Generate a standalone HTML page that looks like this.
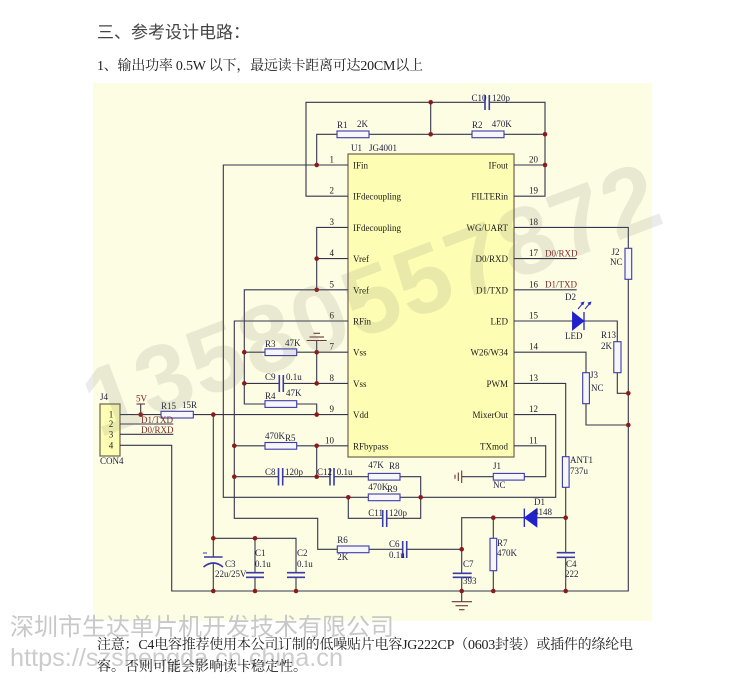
<!DOCTYPE html>
<html><head><meta charset="utf-8"><style>
html,body{margin:0;padding:0;background:#fff;}
svg{display:block;}
.l{font-family:"Liberation Serif","Noto Serif CJK SC",serif;font-size:9px;fill:#1e1e3c;}
.c{font-family:"Liberation Serif","Noto Serif CJK SC",serif;font-size:9px;fill:#1a1a1a;}
.r{font-family:"Liberation Serif","Noto Serif CJK SC",serif;font-size:9px;fill:#7a2a2a;}
</style></head><body>
<svg width="750" height="686" viewBox="0 0 750 686" xmlns="http://www.w3.org/2000/svg">
<rect width="750" height="686" fill="#fff"/>
<!-- headings -->
<text x="97" y="38" font-family="'Liberation Sans','Noto Sans CJK SC',sans-serif" font-size="17" fill="#444">三、参考设计电路：</text>
<text x="97" y="70" font-family="'Liberation Serif','Noto Serif CJK SC',serif" font-size="14" fill="#222" textLength="326" lengthAdjust="spacing">1、输出功率 0.5W 以下，最远读卡距离可达20CM以上</text>

<!-- yellow background -->
<rect x="93" y="83" width="559" height="538" fill="#fdfde4"/>

<!-- chip -->
<rect x="348" y="154" width="166" height="303" fill="#fdfdb4" stroke="#6e6250" stroke-width="1.2"/>
<!-- J4 -->
<rect x="100" y="404" width="20" height="52" fill="#fdfdb4" stroke="#6e6250" stroke-width="1.2"/>

<!-- wires -->
<g stroke="#34344e" stroke-width="1.1" fill="none">
<polyline points="485,102.3 306,102.3 306,196.2 348,196.2"/>
<polyline points="489.3,102.3 545,102.3 545,196.2 514,196.2"/>
<line x1="430.7" y1="102.3" x2="430.7" y2="134.3"/>
<polyline points="348,165 316.7,165 316.7,134.3 337,134.3"/>
<line x1="369" y1="134.3" x2="472" y2="134.3"/>
<line x1="504" y1="134.3" x2="545" y2="134.3"/>
<line x1="514" y1="165" x2="545" y2="165"/>
<polyline points="316.7,165 223.3,165 223.3,497.3 368.3,497.3"/>
<polyline points="400,497.3 555.7,497.3 555.7,414.6 514,414.6"/>
<polyline points="348,227.4 316.7,227.4 316.7,289.8"/>
<line x1="316.7" y1="258.6" x2="348" y2="258.6"/>
<polyline points="348,289.8 244.3,289.8 244.3,404 265,404"/>
<polyline points="296.7,404 316.7,404 316.7,414.6"/>
<line x1="244.3" y1="352.2" x2="265" y2="352.2"/>
<line x1="296.7" y1="352.2" x2="348" y2="352.2"/>
<line x1="316.7" y1="340.5" x2="316.7" y2="383.4"/>
<line x1="244.3" y1="383.4" x2="279.3" y2="383.4"/>
<line x1="283.3" y1="383.4" x2="348" y2="383.4"/>
<line x1="120" y1="414.6" x2="161" y2="414.6"/>
<line x1="193.3" y1="414.6" x2="348" y2="414.6"/>
<line x1="140.7" y1="404" x2="140.7" y2="414.6"/>
<line x1="120" y1="424" x2="173.3" y2="424"/>
<line x1="120" y1="434.3" x2="173.3" y2="434.3"/>
<polyline points="120,445.3 171.7,445.3 171.7,591 628.3,591 628.3,227.4 514,227.4"/>
<line x1="213.3" y1="414.6" x2="213.3" y2="557"/>
<line x1="213.3" y1="562.5" x2="213.3" y2="591"/>
<polyline points="213.3,538.3 296,538.3 296,572.7"/>
<line x1="255" y1="538.3" x2="255" y2="572.7"/>
<line x1="255" y1="577.3" x2="255" y2="591"/>
<line x1="296" y1="577.3" x2="296" y2="591"/>
<polyline points="348,321 234.3,321 234.3,518.3 317.7,518.3 317.7,549.3 337.3,549.3"/>
<line x1="369" y1="549.3" x2="402.7" y2="549.3"/>
<line x1="406.7" y1="549.3" x2="461.7" y2="549.3"/>
<line x1="234.3" y1="445.8" x2="265" y2="445.8"/>
<line x1="296.7" y1="445.8" x2="348" y2="445.8"/>
<line x1="316.7" y1="445.8" x2="316.7" y2="476.7"/>
<line x1="234.3" y1="476.7" x2="278.5" y2="476.7"/>
<line x1="282.7" y1="476.7" x2="330" y2="476.7"/>
<line x1="334" y1="476.7" x2="368.3" y2="476.7"/>
<polyline points="400,476.7 420.7,476.7 420.7,518.3 386.7,518.3"/>
<polyline points="348.3,497.3 348.3,518.3 382.7,518.3"/>
<line x1="514" y1="258.6" x2="576.7" y2="258.6"/>
<line x1="514" y1="289.8" x2="576.7" y2="289.8"/>
<line x1="514" y1="321" x2="572.7" y2="321"/>
<polyline points="584,321 617.3,321 617.3,341.7"/>
<polyline points="617.3,372.7 617.3,393.3 628.3,393.3"/>
<polyline points="514,352.2 586,352.2 586,372.7"/>
<polyline points="586,403.7 586,425 628.3,425"/>
<polyline points="514,383.4 565.7,383.4 565.7,456.7"/>
<line x1="565.7" y1="487.3" x2="565.7" y2="552.7"/>
<line x1="565.7" y1="557.3" x2="565.7" y2="591"/>
<line x1="565.7" y1="517.7" x2="536.7" y2="517.7"/>
<polyline points="524.3,517.7 461.7,517.7 461.7,573.3"/>
<line x1="461.7" y1="577.3" x2="461.7" y2="591"/>
<line x1="493.3" y1="517.7" x2="493.3" y2="538.3"/>
<line x1="493.3" y1="570.7" x2="493.3" y2="591"/>
<polyline points="514,445.8 545.7,445.8 545.7,476.7 524.3,476.7"/>
<line x1="493.3" y1="476.7" x2="461.7" y2="476.7"/>
<line x1="461.7" y1="591" x2="461.7" y2="601.7"/>
</g>

<!-- grounds / power (brown) -->
<g stroke="#6b3434" stroke-width="1.1" fill="none">
<line x1="306.7" y1="340.5" x2="326.7" y2="340.5"/>
<line x1="309.5" y1="337" x2="324" y2="337"/>
<line x1="313.5" y1="333.3" x2="320" y2="333.3"/>
<line x1="136.5" y1="404" x2="145" y2="404"/>
<line x1="451.7" y1="601.7" x2="472" y2="601.7"/>
<line x1="455.5" y1="605.7" x2="468" y2="605.7"/>
<line x1="459" y1="609.7" x2="464.5" y2="609.7"/>
<line x1="461.7" y1="470.5" x2="461.7" y2="483"/>
<line x1="458.3" y1="472.5" x2="458.3" y2="481"/>
<line x1="455" y1="474.7" x2="455" y2="478.7"/>
</g>

<!-- resistors -->
<g stroke="#3a3aa8" stroke-width="1.1" fill="#f6f6fb">
<rect x="337" y="131" width="32" height="6.7"/>
<rect x="472" y="131" width="32" height="6.7"/>
<rect x="265" y="348.9" width="31.7" height="6.7"/>
<rect x="265" y="400.7" width="31.7" height="6.7"/>
<rect x="161" y="411.3" width="32.3" height="6.7"/>
<rect x="265" y="442.5" width="31.7" height="6.7"/>
<rect x="368.3" y="473.4" width="31.7" height="6.7"/>
<rect x="368.3" y="494" width="31.7" height="6.7"/>
<rect x="337.3" y="546" width="31.7" height="6.7"/>
<rect x="493.3" y="473.4" width="31" height="6.7"/>
<rect x="625" y="248.3" width="6.7" height="31"/>
<rect x="613.8" y="341.7" width="7.2" height="31"/>
<rect x="582.7" y="372.7" width="6.7" height="31"/>
<rect x="562.4" y="456.7" width="6.7" height="30.6"/>
<rect x="490" y="538.3" width="6.7" height="32.4"/>
</g>

<!-- capacitors -->
<g stroke="#3a3aa8" stroke-width="1.6" fill="none">
<line x1="485" y1="95" x2="485" y2="110"/><line x1="489.3" y1="95" x2="489.3" y2="110"/>
<line x1="279.3" y1="375" x2="279.3" y2="392"/><line x1="283.3" y1="375" x2="283.3" y2="392"/>
<line x1="278.5" y1="468" x2="278.5" y2="485.5"/><line x1="282.7" y1="468" x2="282.7" y2="485.5"/>
<line x1="330" y1="468" x2="330" y2="485.5"/><line x1="334" y1="468" x2="334" y2="485.5"/>
<line x1="382.7" y1="510" x2="382.7" y2="527"/><line x1="386.7" y1="510" x2="386.7" y2="527"/>
<line x1="402.7" y1="541" x2="402.7" y2="558"/><line x1="406.7" y1="541" x2="406.7" y2="558"/>
<line x1="246" y1="572.7" x2="264" y2="572.7"/><line x1="246" y1="577.3" x2="264" y2="577.3"/>
<line x1="287" y1="572.7" x2="305" y2="572.7"/><line x1="287" y1="577.3" x2="305" y2="577.3"/>
<line x1="452.7" y1="573.3" x2="471.7" y2="573.3"/><line x1="452.7" y1="577.3" x2="471.7" y2="577.3"/>
<line x1="556.7" y1="552.7" x2="575" y2="552.7"/><line x1="556.7" y1="557.3" x2="575" y2="557.3"/>
<line x1="204" y1="557" x2="222.6" y2="557"/>
<path d="M203.5,567 Q213.3,559 223,567"/>
<line x1="203" y1="553" x2="207" y2="553" stroke-width="1"/>
</g>

<!-- diodes -->
<g fill="#2222cc" stroke="#2222cc" stroke-width="1.3">
<polygon points="572.7,312.5 572.7,329.5 583.5,321"/>
<line x1="584" y1="312" x2="584" y2="330"/>
<polygon points="536.7,509 536.7,526.5 524.8,517.7"/>
<line x1="524.3" y1="508.5" x2="524.3" y2="527"/>
</g>
<g stroke="#2222cc" stroke-width="1" fill="none">
<line x1="578" y1="309" x2="583.5" y2="302.5"/>
<line x1="585" y1="309" x2="590.5" y2="302.5"/>
</g>
<g fill="#2222cc">
<polygon points="584.5,301.5 580.3,302.8 583.2,305.4"/>
<polygon points="591.5,301.5 587.3,302.8 590.2,305.4"/>
</g>

<!-- junction dots -->
<g fill="#8b1a1a">
<circle cx="430.7" cy="102.3" r="2.3"/><circle cx="430.7" cy="134.3" r="2.3"/>
<circle cx="545" cy="134.3" r="2.3"/><circle cx="316.7" cy="165" r="2.3"/>
<circle cx="545" cy="165" r="2.3"/><circle cx="316.7" cy="258.6" r="2.3"/>
<circle cx="316.7" cy="289.8" r="2.3"/><circle cx="244.3" cy="352.2" r="2.3"/>
<circle cx="316.7" cy="352.2" r="2.3"/><circle cx="244.3" cy="383.4" r="2.3"/>
<circle cx="316.7" cy="383.4" r="2.3"/><circle cx="316.7" cy="414.6" r="2.3"/>
<circle cx="140.7" cy="414.6" r="2.3"/><circle cx="213.3" cy="414.6" r="2.3"/>
<circle cx="234.3" cy="445.8" r="2.3"/><circle cx="316.7" cy="445.8" r="2.3"/>
<circle cx="234.3" cy="476.7" r="2.3"/><circle cx="316.7" cy="476.7" r="2.3"/>
<circle cx="348.3" cy="497.3" r="2.3"/><circle cx="420.7" cy="497.3" r="2.3"/>
<circle cx="213.3" cy="538.3" r="2.3"/><circle cx="255" cy="538.3" r="2.3"/>
<circle cx="213.3" cy="591" r="2.3"/><circle cx="255" cy="591" r="2.3"/>
<circle cx="296" cy="591" r="2.3"/><circle cx="628.3" cy="393.3" r="2.3"/>
<circle cx="628.3" cy="425" r="2.3"/><circle cx="565.7" cy="517.7" r="2.3"/>
<circle cx="493.3" cy="517.7" r="2.3"/><circle cx="461.7" cy="549.3" r="2.3"/>
<circle cx="461.7" cy="591" r="2.3"/><circle cx="493.3" cy="591" r="2.3"/>
<circle cx="565.7" cy="591" r="2.3"/>
</g>

<!-- chip labels -->
<g class="c">
<text x="353" y="168.5">IFin</text>
<text x="353" y="199.7">IFdecoupling</text>
<text x="353" y="230.9">IFdecoupling</text>
<text x="353" y="262.1">Vref</text>
<text x="353" y="293.3">Vref</text>
<text x="353" y="324.5">RFin</text>
<text x="353" y="355.7">Vss</text>
<text x="353" y="386.9">Vss</text>
<text x="353" y="418.1">Vdd</text>
<text x="353" y="449.3">RFbypass</text>
</g>
<g class="c" text-anchor="end">
<text x="508" y="168.5">IFout</text>
<text x="508" y="199.7">FILTERin</text>
<text x="508" y="230.9">WG/UART</text>
<text x="508" y="262.1">D0/RXD</text>
<text x="508" y="293.3">D1/TXD</text>
<text x="508" y="324.5">LED</text>
<text x="508" y="355.7">W26/W34</text>
<text x="508" y="386.9">PWM</text>
<text x="508" y="418.1">MixerOut</text>
<text x="508" y="449.3">TXmod</text>
</g>
<g class="c" text-anchor="end">
<text x="334" y="162.5">1</text>
<text x="334" y="193.7">2</text>
<text x="334" y="224.9">3</text>
<text x="334" y="256.1">4</text>
<text x="334" y="287.3">5</text>
<text x="334" y="318.5">6</text>
<text x="334" y="349.7">7</text>
<text x="334" y="380.9">8</text>
<text x="334" y="412.1">9</text>
<text x="334" y="443.3">10</text>
</g>
<g class="c">
<text x="529" y="162.5">20</text>
<text x="529" y="193.7">19</text>
<text x="529" y="224.9">18</text>
<text x="529" y="256.1">17</text>
<text x="529" y="287.3">16</text>
<text x="529" y="318.5">15</text>
<text x="529" y="349.7">14</text>
<text x="529" y="380.9">13</text>
<text x="529" y="412.1">12</text>
<text x="529" y="443.3">11</text>
</g>

<!-- component labels -->
<g class="l">
<text x="351" y="151">U1</text><text x="369" y="151">JG4001</text>
<text x="471.5" y="101">C10</text><text x="492" y="101">120p</text>
<text x="337" y="128">R1</text><text x="357" y="127">2K</text>
<text x="472" y="128">R2</text><text x="491.7" y="127">470K</text>
<text x="265" y="347">R3</text><text x="285" y="346">47K</text>
<text x="265" y="380">C9</text><text x="286" y="380">0.1u</text>
<text x="265" y="399">R4</text><text x="286" y="396">47K</text>
<text x="265" y="439">470K</text><text x="285" y="441">R5</text>
<text x="265" y="475">C8</text><text x="285" y="475">120p</text>
<text x="317" y="475">C12</text><text x="336.7" y="475">0.1u</text>
<text x="368.3" y="468">47K</text><text x="389" y="469">R8</text>
<text x="368.3" y="490">470K</text><text x="387" y="492">R9</text>
<text x="368.3" y="516">C11</text><text x="389" y="516">120p</text>
<text x="337.3" y="543">R6</text><text x="337.3" y="560">2K</text>
<text x="389" y="547">C6</text><text x="389" y="558">0.1u</text>
<text x="225" y="567">C3</text><text x="215" y="577">22u/25V</text>
<text x="255" y="556">C1</text><text x="255" y="567">0.1u</text>
<text x="297" y="556">C2</text><text x="297" y="567">0.1u</text>
<text x="100" y="400">J4</text>
<text x="100" y="464">CON4</text>
<text x="161" y="409">R15</text><text x="182" y="408">15R</text>
<text x="611.5" y="255">J2</text><text x="610" y="265">NC</text>
<text x="565" y="300">D2</text>
<text x="565" y="339">LED</text>
<text x="601" y="338">R13</text><text x="601" y="349">2K</text>
<text x="590" y="378">J3</text><text x="591" y="391">NC</text>
<text x="570" y="463">ANT1</text><text x="570" y="474">737u</text>
<text x="534" y="505">D1</text><text x="534" y="515">4148</text>
<text x="497" y="546">R7</text><text x="497" y="556">470K</text>
<text x="463" y="567">C7</text><text x="463" y="584">393</text>
<text x="566" y="567">C4</text><text x="565" y="577">222</text>
<text x="493" y="469">J1</text><text x="493" y="488">NC</text>
</g>
<g class="c" text-anchor="middle">
<text x="111" y="417.5">1</text>
<text x="111" y="427">2</text>
<text x="111" y="437.5">3</text>
<text x="111" y="448.5">4</text>
</g>
<g class="r">
<text x="136" y="401.5">5V</text>
<text x="141" y="423">D1/TXD</text>
<text x="141" y="433">D0/RXD</text>
<text x="545" y="256.5">D0/RXD</text>
<text x="545" y="287.7">D1/TXD</text>
</g>

<!-- big diagonal watermark -->
<text x="0" y="0" transform="translate(99,438) rotate(-20.8)" font-family="'Liberation Sans',sans-serif" font-weight="bold" font-size="96" letter-spacing="2" fill="#7c7c6a" fill-opacity="0.15">13580557872</text>

<!-- bottom watermarks -->
<text x="10" y="635" font-family="'Liberation Sans','Noto Sans CJK SC',sans-serif" font-size="24" fill="#c8c8c8" textLength="384" lengthAdjust="spacingAndGlyphs">深圳市生达单片机开发技术有限公司</text>
<text x="10" y="666" font-family="'Liberation Sans',sans-serif" font-size="25" fill="#cccccc" textLength="333" lengthAdjust="spacingAndGlyphs">https://szshengda.cn.china.cn</text>

<!-- note -->
<text x="97" y="649" font-family="'Liberation Serif','Noto Serif CJK SC',serif" font-size="14" fill="#1e1e1e" textLength="536" lengthAdjust="spacing">注意：C4电容推荐使用本公司订制的低噪贴片电容JG222CP（0603封装）或插件的绦纶电</text>
<text x="97" y="671" font-family="'Liberation Serif','Noto Serif CJK SC',serif" font-size="14" fill="#1e1e1e">容。否则可能会影响读卡稳定性。</text>
</svg>
</body></html>
